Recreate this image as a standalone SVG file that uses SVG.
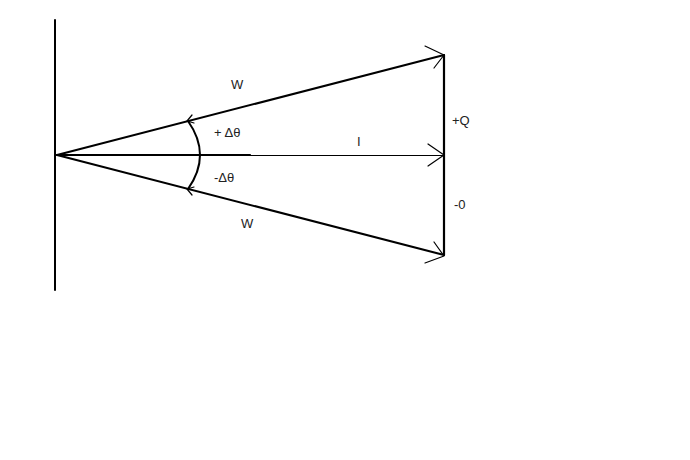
<svg xmlns="http://www.w3.org/2000/svg" width="690" height="460" viewBox="0 0 690 460">
<style>
.t{font-family:"Liberation Sans",Arial,sans-serif;font-size:13px;fill:#222}
.k{stroke:#000;fill:none;stroke-linecap:round;stroke-linejoin:round}
</style>
<rect width="690" height="460" fill="#fff"/>
<g id="wall"><line class="k" x1="55" y1="20" x2="55" y2="290" stroke-width="2"/></g>
<g id="connectors">
<line class="k" x1="57" y1="155" x2="444" y2="55" stroke-width="2"/>
<line class="k" x1="57" y1="155" x2="444" y2="255" stroke-width="2"/>
<line class="k" x1="57" y1="155" x2="250" y2="155" stroke-width="2.2"/>
<line class="k" x1="250" y1="155.5" x2="444" y2="155.5" stroke-width="1"/>
<line class="k" x1="444" y1="55" x2="444" y2="255" stroke-width="2.2"/>
<path class="k" d="M425,46 L444,55 L434,68" stroke-width="1.2"/>
<path class="k" d="M428,144 L444,155 L428,166" stroke-width="1.2"/>
<path class="k" d="M425,263 L444,256 L434,242" stroke-width="1.2"/>
<path class="k" d="M188,121 Q212,155 188,189" stroke-width="2"/>
<path class="k" d="M192,115 L187,121 L194,123" stroke-width="1.2"/>
<path class="k" d="M192,195 L187,189 L194,187" stroke-width="1.2"/>
</g>
<g id="labels">
<text class="t" x="231" y="89">W</text>
<text class="t" x="214" y="137">+ Δθ</text>
<text class="t" x="357" y="146">I</text>
<text class="t" x="214" y="182">-Δθ</text>
<text class="t" x="241" y="228">W</text>
<text class="t" x="452" y="125">+Q</text>
<text class="t" x="454" y="209">-0</text>
</g>
</svg>
